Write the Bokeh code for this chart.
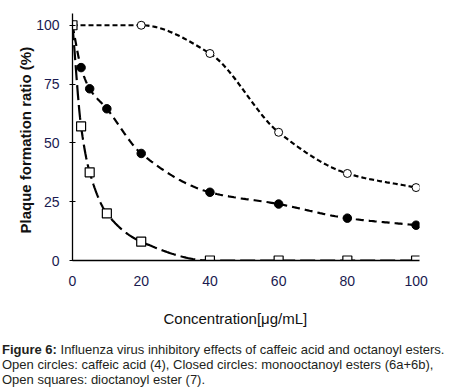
import numpy as np
from bokeh.plotting import figure
from bokeh.layouts import column
from bokeh.models import Range1d, FixedTicker, Title, Div
from bokeh.embed import file_html
from bokeh.resources import INLINE

# ---- data ----
conc_open = [0, 20, 40, 60, 80, 100]
ratio_open = [100, 100, 88, 54.5, 37, 31]          # caffeic acid (4)
conc_closed = [0, 2.5, 5, 10, 20, 40, 60, 80, 100]
ratio_closed = [100, 82, 73, 64.5, 45.5, 29, 24, 18, 15]   # monooctanoyl esters
conc_sq = [0, 2.5, 5, 10, 20, 40, 60, 80, 100]
ratio_sq = [100, 57, 37.5, 20, 8, 0, 0, 0, 0]      # dioctanoyl ester (7)
x_ticks = [0, 20, 40, 60, 80, 100]
y_ticks = [0, 25, 50, 75, 100]
caption_bold = "Figure 6:"
caption_lines = [
    "Influenza virus inhibitory effects of caffeic acid and octanoyl esters.",
    "Open circles: caffeic acid (4), Closed circles: monooctanoyl esters (6a+6b),",
    "Open squares: dioctanoyl ester (7).",
]


def smooth(xs, ys, n=40):
    """Monotone cubic (PCHIP) path through the given points, for drawing the curve."""
    x = np.asarray(xs, float); y = np.asarray(ys, float)
    h = np.diff(x); d = np.diff(y) / h
    m = np.zeros_like(x)
    for i in range(1, len(x) - 1):
        if d[i - 1] * d[i] > 0:
            w1 = 2 * h[i] + h[i - 1]; w2 = h[i] + 2 * h[i - 1]
            m[i] = (w1 + w2) / (w1 / d[i - 1] + w2 / d[i])
    m[0] = d[0]; m[-1] = d[-1]
    px, py = [], []
    for i in range(len(x) - 1):
        t = np.linspace(0, 1, n, endpoint=False)
        h00 = 2*t**3 - 3*t**2 + 1; h10 = t**3 - 2*t**2 + t
        h01 = -2*t**3 + 3*t**2; h11 = t**3 - t**2
        px.extend(x[i] + t * h[i])
        py.extend(h00*y[i] + h10*h[i]*m[i] + h01*y[i+1] + h11*h[i]*m[i+1])
    px.append(x[-1]); py.append(y[-1])
    return px, py


FONT = "Liberation Sans"
W = 449
p = figure(width=W, height=345, output_backend="svg", toolbar_location=None,
           x_range=Range1d(0, 101), y_range=Range1d(0, 105),
           min_border_left=72, min_border_right=30, min_border_top=13, min_border_bottom=85)
p.outline_line_color = None
p.grid.visible = False

# x axis
p.xaxis.ticker = FixedTicker(ticks=x_ticks)
p.xaxis.major_tick_out = 0
p.xaxis.major_tick_in = 0
p.xaxis.minor_tick_out = 0
p.xaxis.minor_tick_in = 0
p.xaxis.major_label_standoff = 15
p.xaxis.major_label_text_font = FONT
p.xaxis.major_label_text_font_size = "14px"
p.xaxis.major_label_text_color = "#1a1a50"
p.xaxis.axis_line_width = 1.3
p.add_layout(Title(text="Concentration[μg/mL]", align="left", offset=91,
                   text_font=FONT, text_font_size="15px", text_font_style="normal",
                   text_color="#111111", standoff=38), "below")
# y axis
p.yaxis.ticker = FixedTicker(ticks=y_ticks)
p.yaxis.major_tick_out = 3
p.yaxis.major_tick_in = 3
p.yaxis.minor_tick_out = 0
p.yaxis.minor_tick_in = 0
p.yaxis.major_label_standoff = 10
p.yaxis.major_label_text_font = FONT
p.yaxis.major_label_text_font_size = "14px"
p.yaxis.major_label_text_color = "#1a1a50"
p.yaxis.axis_line_width = 1.3
p.add_layout(Title(text="Plaque formation ratio (%)", align="left", offset=27,
                   text_font=FONT, text_font_size="15px", text_font_style="bold",
                   text_color="#111111", standoff=0), "left")

# curves
ox, oy = smooth(conc_open, ratio_open)
p.line(ox, oy, line_color="black", line_width=2.2, line_dash="5 3")
p.scatter(conc_open, ratio_open, marker="circle", size=8, fill_color="white",
          line_color="black", line_width=1)

cx, cy = smooth(conc_closed, ratio_closed)
p.line(cx, cy, line_color="black", line_width=2.2, line_dash="8 5")
p.scatter(conc_closed, ratio_closed, marker="circle", size=8.5, fill_color="black",
          line_color="black")

sx, sy = smooth(conc_sq, ratio_sq)
p.line(sx, sy, line_color="black", line_width=2.2, line_dash="15 5")
p.scatter(conc_sq, ratio_sq, marker="square", size=9, fill_color="white",
          line_color="black", line_width=1.2)

# caption
html = (f"<b>{caption_bold}</b> {caption_lines[0]}<br>"
        f"{caption_lines[1]}<br>{caption_lines[2]}")
cap = Div(text=html, width=W, height=45, margin=(-5, 0, 0, 0),
          styles={"font-family": FONT, "font-size": "13px", "line-height": "15px",
                  "color": "#231f20", "padding-left": "2px", "padding-top": "2px",
                  "white-space": "nowrap"})

layout = column(p, cap, spacing=0)
open("out.html", "w").write(file_html(layout, INLINE))
